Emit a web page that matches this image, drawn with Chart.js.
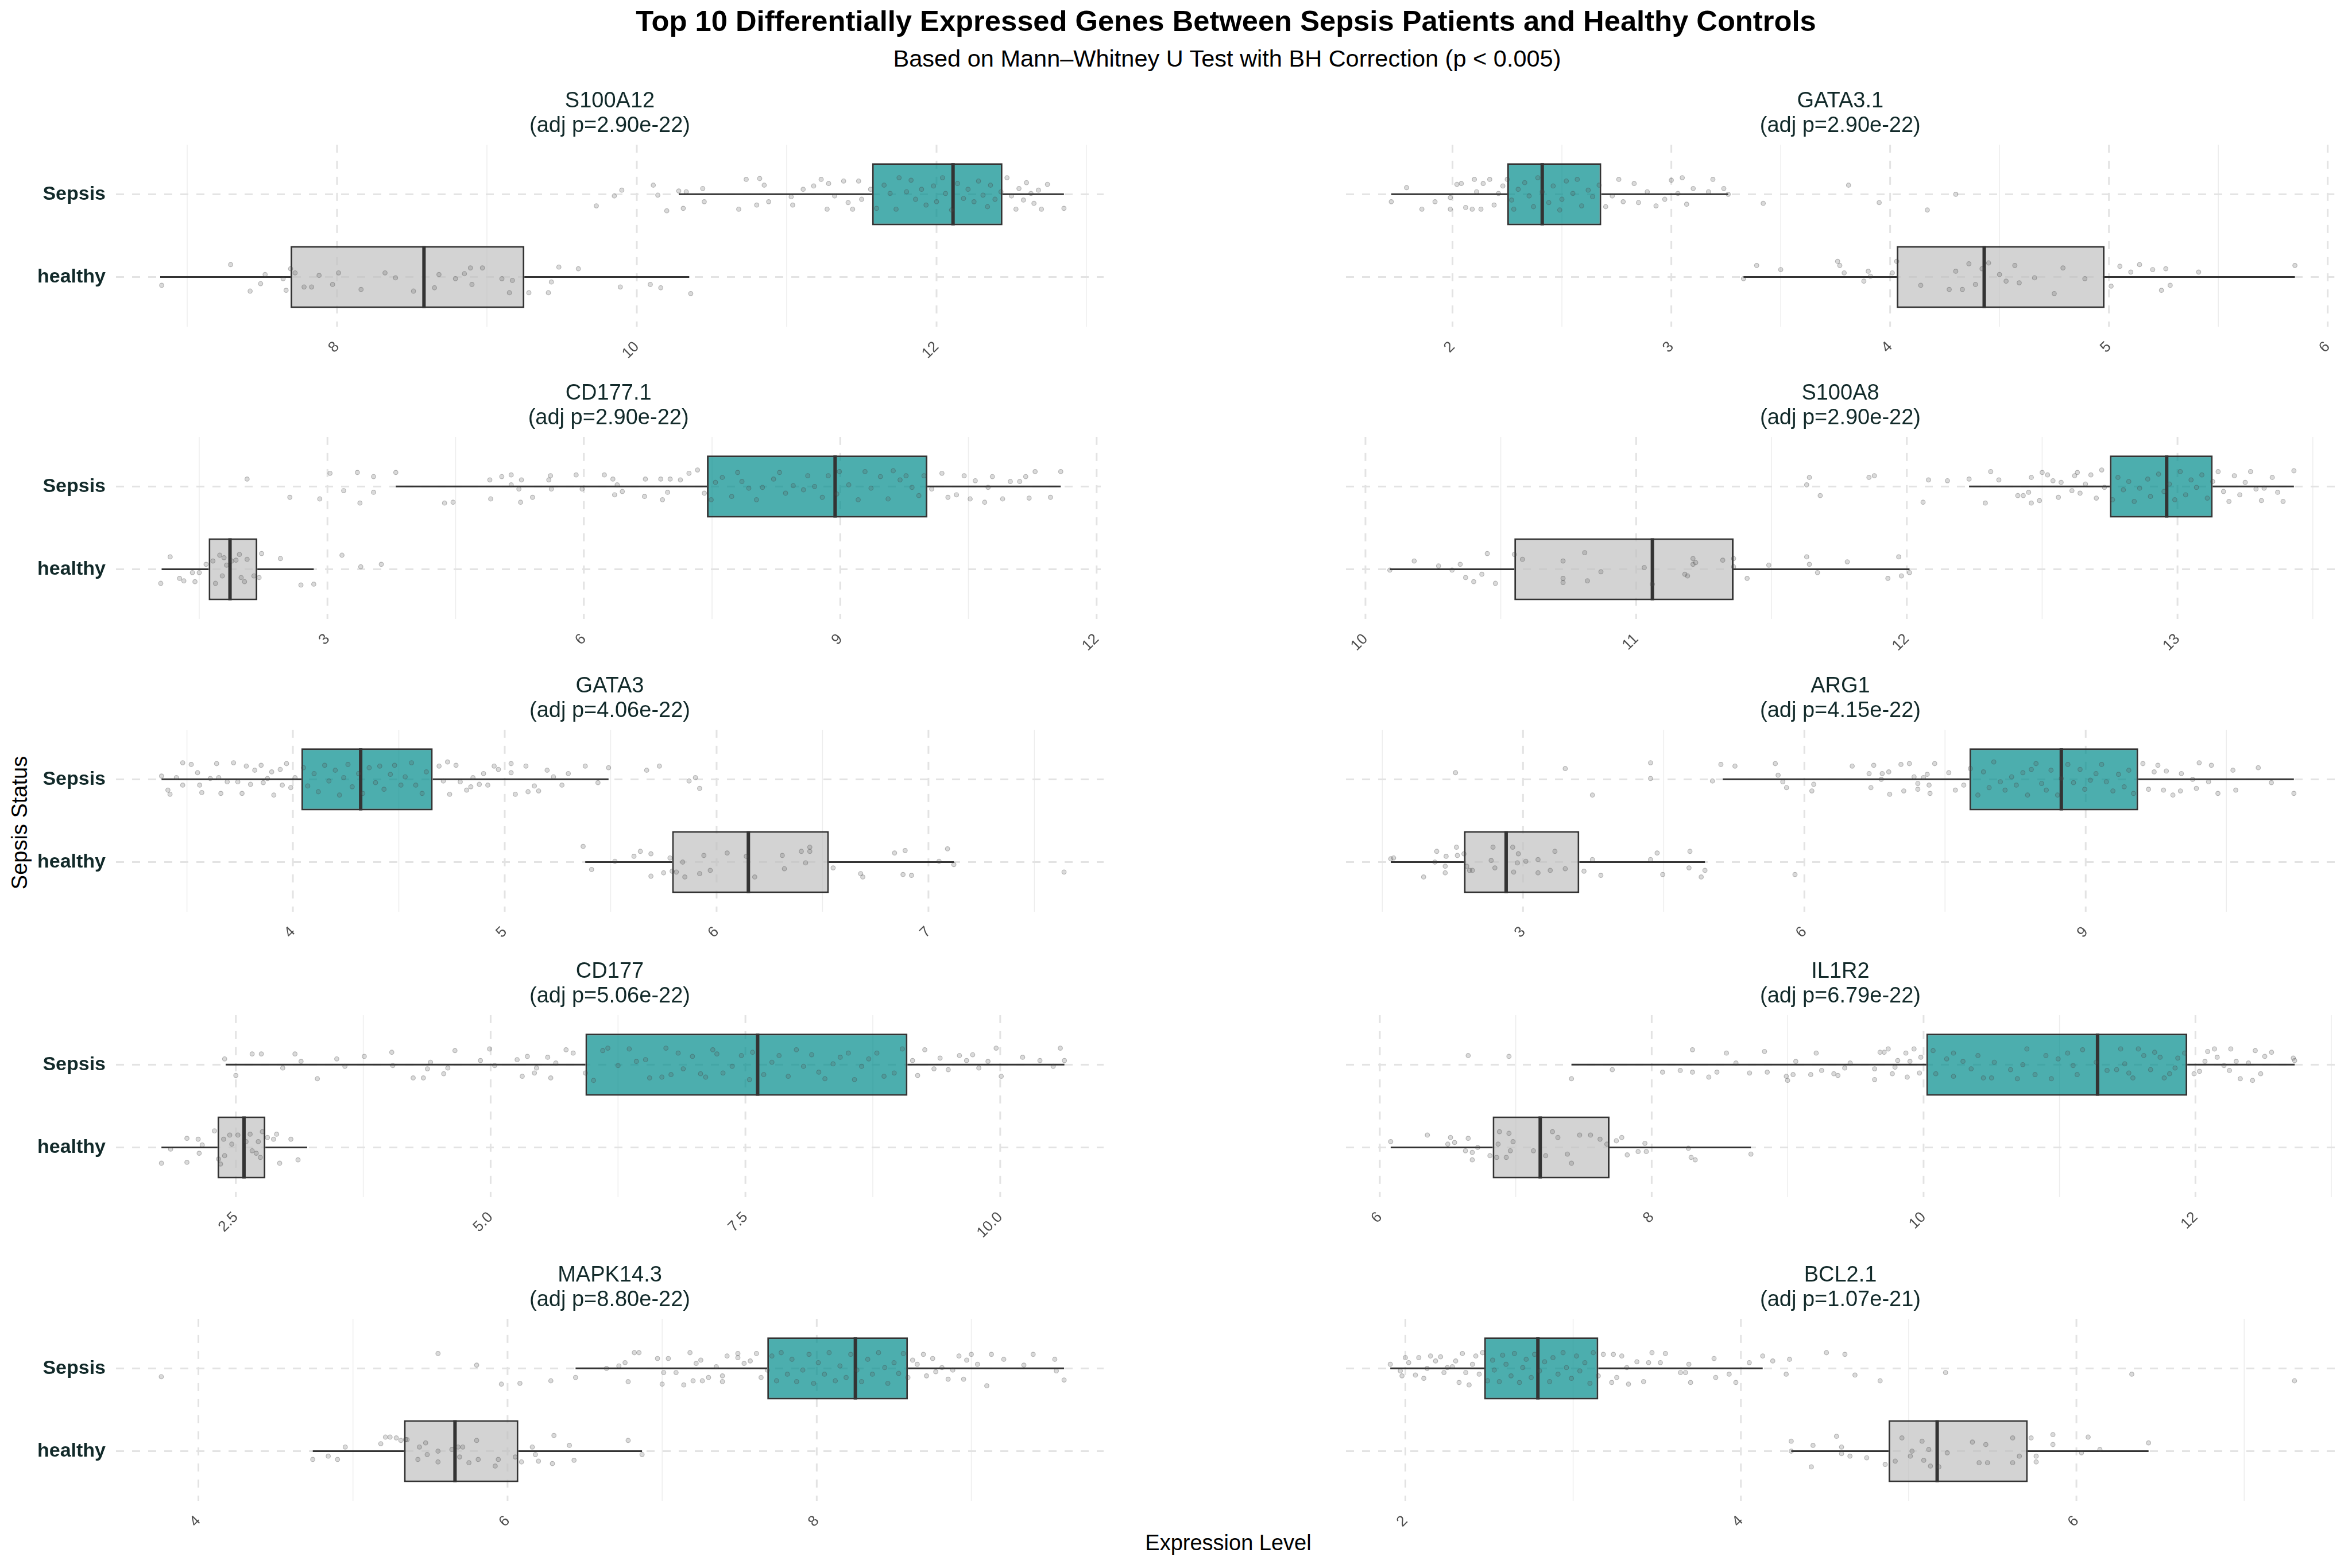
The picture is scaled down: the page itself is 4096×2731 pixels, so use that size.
<!DOCTYPE html>
<html><head><meta charset="utf-8">
<script src="https://cdn.jsdelivr.net/npm/chart.js@4.4.1/dist/chart.umd.min.js"></script>
<style>
html,body{margin:0;padding:0;background:#fff;}
#wrap{position:relative;width:4096px;height:2731px;overflow:hidden;background:#fff;font-family:'Liberation Sans',Arial,Helvetica,sans-serif;}
#wrap canvas{position:absolute;}
.t{position:absolute;white-space:nowrap;transform:translate(-50%,-50%);line-height:1;color:#000;}
</style></head><body><div id="wrap">
<div class="t" style="left:2135px;top:37px;font-size:50.7px;font-weight:bold;">Top 10 Differentially Expressed Genes Between Sepsis Patients and Healthy Controls</div>
<div class="t" style="left:2137px;top:102px;font-size:41.5px;">Based on Mann–Whitney U Test with BH Correction (p &lt; 0.005)</div>
<div class="t" style="left:34px;top:1433px;font-size:38px;transform:translate(-50%,-50%) rotate(-90deg);">Sepsis Status</div>
<div class="t" style="left:2139px;top:2687px;font-size:38px;">Expression Level</div>
</div>
<script>
// ---------------- data ----------------
const genes = ['S100A12','GATA3.1','CD177.1','S100A8','GATA3','ARG1','CD177','IL1R2','MAPK14.3','BCL2.1'];
const pAdj  = ['2.90e-22','2.90e-22','2.90e-22','2.90e-22','4.06e-22','4.15e-22','5.06e-22','6.79e-22','8.80e-22','1.07e-21'];
const groups = ['Sepsis','healthy'];

const sepsisLow  = [10.28, 1.72, 3.80, 12.23, 3.38, 5.13, 2.40, 7.41, 6.44, 1.91];
const sepsisQ1   = [11.57, 2.25, 7.44, 12.75, 4.04, 7.76, 5.93, 10.02, 7.68, 2.47];
const sepsisMed  = [12.11, 2.41, 8.94, 12.96, 4.32, 8.74, 7.62, 11.28, 8.25, 2.79];
const sepsisQ3   = [12.44, 2.68, 10.02, 13.13, 4.66, 9.56, 9.09, 11.94, 8.59, 3.15];
const sepsisHigh = [12.85, 3.26, 11.58, 13.43, 5.49, 11.22, 10.63, 12.73, 9.60, 4.13];

const healthyLow  = [6.82, 3.33, 1.06, 10.09, 5.38, 1.59, 1.77, 6.08, 4.74, 4.30];
const healthyQ1   = [7.69, 4.03, 1.61, 10.55, 5.79, 2.37, 2.32, 6.83, 5.33, 4.88];
const healthyMed  = [8.58, 4.43, 1.86, 11.06, 6.15, 2.82, 2.58, 7.18, 5.66, 5.17];
const healthyQ3   = [9.25, 4.98, 2.18, 11.36, 6.53, 3.60, 2.79, 7.69, 6.07, 5.71];
const healthyHigh = [10.35, 5.85, 2.84, 12.01, 7.12, 4.94, 3.20, 8.73, 6.87, 6.43];

const xMin = [6.525, 1.513, 0.526, 9.928, 3.165, 1.112, 1.324, 5.751, 3.467, 1.646];
const xMax = [13.115, 6.031, 12.05, 13.581, 7.827, 11.656, 11.015, 13.025, 9.856, 7.540];

const tickValues = [[8,10,12],[2,3,4,5,6],[3,6,9,12],[10,11,12,13],[4,5,6,7],[3,6,9],[2.5,5,7.5,10],[6,8,10,12],[4,6,8],[2,4,6]];
const tickLabels = [['8','10','12'],['2','3','4','5','6'],['3','6','9','12'],['10','11','12','13'],['4','5','6','7'],['3','6','9'],['2.5','5.0','7.5','10.0'],['6','8','10','12'],['4','6','8'],['2','4','6']];

// jittered observations: [expression, vertical jitter]
const S100A12_sepsis = [[9.73,0.14],[9.85,0.02],[9.90,-0.05],[10.11,-0.11],[10.14,0.01],[10.20,0.20],[10.28,-0.04],[10.31,0.17],[10.33,-0.03],[10.44,-0.07],[10.45,0.09],[10.68,0.18],[10.73,-0.18],[10.80,0.13],[10.82,-0.19],[10.85,-0.11],[10.88,0.09],[11.03,0.03],[11.04,0.13],[11.11,-0.06],[11.18,-0.10],[11.23,-0.18],[11.27,0.18],[11.28,-0.13],[11.32,0.02],[11.38,-0.16],[11.41,0.10],[11.44,0.18],[11.48,-0.16],[11.50,0.06],[11.56,-0.06],[11.60,0.17],[11.65,-0.11],[11.69,-0.01],[11.73,0.18],[11.75,-0.20],[11.80,-0.03],[11.83,-0.17],[11.86,0.06],[11.90,-0.06],[11.93,0.13],[11.98,-0.10],[12.00,0.09],[12.04,-0.20],[12.06,-0.01],[12.10,0.19],[12.14,-0.13],[12.18,0.05],[12.21,-0.06],[12.25,0.09],[12.28,-0.16],[12.31,0.01],[12.34,0.15],[12.36,-0.11],[12.39,0.06],[12.43,-0.03],[12.47,-0.20],[12.50,0.02],[12.53,0.18],[12.55,-0.07],[12.58,0.07],[12.60,-0.14],[12.63,-0.01],[12.65,0.11],[12.68,-0.05],[12.70,0.18],[12.74,-0.12],[12.85,0.17]];
const S100A12_healthy = [[6.83,0.10],[7.29,-0.15],[7.42,0.17],[7.49,0.08],[7.52,-0.03],[7.64,0.02],[7.66,0.16],[7.69,-0.10],[7.72,-0.05],[7.78,0.12],[7.83,0.12],[7.88,-0.02],[7.97,0.09],[8.01,-0.05],[8.16,0.15],[8.32,-0.05],[8.39,0.01],[8.51,0.17],[8.65,0.13],[8.68,-0.03],[8.79,0.02],[8.85,-0.04],[8.89,-0.11],[8.90,0.09],[8.97,-0.11],[9.10,0.02],[9.15,0.19],[9.17,0.04],[9.28,0.19],[9.41,0.19],[9.43,0.06],[9.48,-0.12],[9.61,-0.10],[9.89,0.12],[10.09,0.09],[10.16,0.13],[10.36,0.20]];

const GATA3_1_sepsis = [[1.72,0.09],[1.79,-0.08],[1.86,0.18],[1.92,0.09],[1.99,0.04],[1.99,0.18],[2.02,-0.12],[2.04,-0.13],[2.06,0.16],[2.09,0.18],[2.10,-0.18],[2.11,-0.03],[2.13,0.18],[2.14,-0.13],[2.17,-0.18],[2.19,0.13],[2.21,-0.01],[2.23,-0.10],[2.25,-0.18],[2.27,0.07],[2.28,0.18],[2.30,-0.06],[2.33,-0.14],[2.35,0.02],[2.37,0.15],[2.39,-0.20],[2.41,-0.03],[2.44,0.10],[2.46,-0.10],[2.49,0.19],[2.50,0.06],[2.52,-0.16],[2.55,-0.01],[2.57,-0.18],[2.59,0.14],[2.62,-0.05],[2.64,0.03],[2.67,-0.11],[2.70,0.15],[2.73,0.02],[2.76,-0.18],[2.78,0.09],[2.83,-0.13],[2.85,0.10],[2.89,-0.03],[2.93,0.14],[2.97,0.06],[3.00,-0.17],[3.03,-0.01],[3.05,-0.20],[3.07,0.12],[3.10,-0.07],[3.17,-0.03],[3.19,-0.18],[3.24,-0.07],[3.26,0.00],[3.42,0.11],[3.81,-0.11],[3.95,0.10],[4.17,0.19],[4.30,0.00]];
const GATA3_1_healthy = [[3.33,0.02],[3.39,-0.14],[3.50,-0.09],[3.76,-0.19],[3.77,-0.14],[3.79,-0.05],[3.88,0.05],[3.90,-0.07],[3.91,-0.01],[4.01,-0.05],[4.03,-0.19],[4.14,0.10],[4.27,0.15],[4.30,-0.07],[4.33,0.15],[4.36,-0.16],[4.39,0.09],[4.42,-0.10],[4.45,-0.17],[4.50,-0.03],[4.53,0.05],[4.57,-0.14],[4.59,0.07],[4.66,0.01],[4.75,0.20],[4.79,-0.11],[4.89,0.02],[5.01,0.11],[5.05,-0.13],[5.10,-0.06],[5.14,-0.15],[5.20,-0.09],[5.24,0.16],[5.26,-0.10],[5.28,0.10],[5.41,-0.06],[5.85,-0.14]];

const CD177_1_sepsis = [[2.06,-0.09],[2.56,0.13],[2.91,0.15],[3.03,-0.16],[3.19,0.05],[3.35,-0.17],[3.38,0.20],[3.54,-0.12],[3.54,0.07],[3.80,-0.17],[4.37,0.20],[4.47,0.19],[4.90,-0.08],[4.91,0.15],[5.04,-0.12],[5.15,-0.14],[5.15,-0.02],[5.24,0.03],[5.26,0.19],[5.27,-0.08],[5.40,0.13],[5.59,-0.08],[5.61,-0.13],[5.62,0.03],[5.91,-0.14],[5.98,0.03],[6.24,-0.14],[6.34,-0.09],[6.36,0.10],[6.39,-0.02],[6.45,0.06],[6.71,0.12],[6.72,-0.09],[6.90,-0.09],[6.92,0.16],[6.98,0.07],[7.01,-0.09],[7.13,-0.08],[7.23,-0.16],[7.33,-0.20],[7.41,0.08],[7.49,0.16],[7.54,-0.05],[7.62,-0.11],[7.73,0.12],[7.80,-0.17],[7.85,-0.06],[7.93,0.02],[8.02,0.16],[8.09,0.01],[8.22,-0.09],[8.29,-0.17],[8.36,0.08],[8.45,-0.01],[8.57,0.04],[8.62,-0.13],[8.70,0.00],[8.79,0.13],[8.86,-0.13],[8.96,0.09],[8.99,-0.18],[9.10,-0.02],[9.21,0.16],[9.29,-0.18],[9.36,0.02],[9.47,-0.12],[9.56,0.15],[9.62,-0.19],[9.70,-0.08],[9.77,-0.13],[9.84,0.01],[9.92,0.11],[9.98,-0.13],[10.07,0.03],[10.19,-0.16],[10.26,0.13],[10.36,0.10],[10.45,-0.13],[10.52,0.15],[10.58,-0.07],[10.69,0.19],[10.73,0.01],[10.78,-0.12],[10.90,0.15],[10.99,-0.06],[11.10,-0.06],[11.17,-0.12],[11.21,0.14],[11.28,-0.18],[11.46,0.13],[11.58,-0.18]];
const CD177_1_healthy = [[1.05,0.17],[1.16,-0.15],[1.27,0.11],[1.32,0.14],[1.42,0.04],[1.45,0.15],[1.50,0.04],[1.58,-0.06],[1.66,-0.10],[1.69,0.17],[1.74,-0.17],[1.77,0.08],[1.79,-0.14],[1.82,-0.05],[1.88,-0.10],[1.93,-0.11],[1.97,-0.18],[1.99,0.10],[2.03,0.15],[2.06,-0.12],[2.14,0.08],[2.20,0.10],[2.23,-0.19],[2.45,-0.13],[2.69,0.19],[2.84,0.18],[3.17,-0.17],[3.39,-0.03],[3.63,-0.06]];

const S100A8_sepsis = [[11.63,-0.02],[11.64,-0.11],[11.68,0.11],[11.86,-0.11],[11.88,-0.13],[12.06,0.19],[12.08,-0.08],[12.15,-0.07],[12.23,-0.09],[12.29,0.20],[12.31,-0.18],[12.34,-0.08],[12.41,0.11],[12.43,0.11],[12.45,0.07],[12.46,-0.11],[12.46,0.20],[12.49,0.17],[12.50,-0.17],[12.52,-0.14],[12.54,-0.07],[12.56,0.13],[12.57,-0.05],[12.61,0.05],[12.62,-0.13],[12.63,-0.17],[12.64,0.08],[12.66,-0.03],[12.68,-0.14],[12.70,0.14],[12.72,-0.20],[12.73,0.01],[12.76,0.16],[12.78,-0.11],[12.80,0.04],[12.82,-0.06],[12.84,0.18],[12.86,0.02],[12.89,-0.09],[12.90,0.12],[12.93,-0.15],[12.95,0.06],[12.97,-0.03],[12.99,0.16],[13.01,-0.18],[13.03,0.10],[13.05,-0.08],[13.07,0.01],[13.09,-0.14],[13.11,0.14],[13.13,-0.06],[13.15,-0.18],[13.17,0.06],[13.19,0.18],[13.21,-0.13],[13.23,0.10],[13.25,-0.05],[13.27,-0.18],[13.29,0.03],[13.31,0.17],[13.32,0.02],[13.35,-0.11],[13.37,0.07],[13.39,0.18],[13.43,-0.19]];
const S100A8_healthy = [[10.09,0.01],[10.18,-0.10],[10.27,-0.04],[10.32,0.01],[10.35,-0.06],[10.37,0.10],[10.40,0.15],[10.43,0.06],[10.45,-0.19],[10.48,0.17],[10.55,-0.18],[10.58,-0.12],[10.73,-0.10],[10.73,0.11],[10.73,0.16],[10.81,-0.20],[10.82,0.14],[10.87,0.03],[11.03,-0.02],[11.06,0.18],[11.18,0.06],[11.19,0.08],[11.21,-0.06],[11.21,-0.13],[11.22,-0.08],[11.32,-0.11],[11.36,-0.13],[11.36,-0.03],[11.41,0.11],[11.49,-0.05],[11.63,-0.15],[11.64,-0.06],[11.67,0.04],[11.78,-0.09],[11.93,0.11],[11.97,-0.15],[11.98,0.08],[12.01,0.04]];

const GATA3_sepsis = [[3.38,-0.04],[3.41,0.13],[3.42,0.18],[3.45,-0.02],[3.48,-0.20],[3.48,0.07],[3.52,-0.18],[3.55,-0.08],[3.56,0.07],[3.57,0.16],[3.61,-0.01],[3.64,-0.19],[3.65,-0.02],[3.66,0.17],[3.69,0.03],[3.72,-0.20],[3.74,0.03],[3.76,0.17],[3.78,-0.16],[3.80,0.06],[3.82,-0.11],[3.85,-0.17],[3.86,0.04],[3.88,-0.01],[3.90,-0.09],[3.91,0.19],[3.94,-0.12],[3.95,0.07],[3.97,-0.19],[3.99,0.10],[4.01,-0.02],[4.05,-0.14],[4.07,0.08],[4.10,-0.07],[4.12,0.15],[4.15,-0.17],[4.17,0.02],[4.20,-0.11],[4.22,0.19],[4.24,-0.02],[4.26,-0.18],[4.28,0.09],[4.31,-0.07],[4.33,0.17],[4.36,-0.14],[4.39,0.04],[4.41,-0.16],[4.43,0.12],[4.46,-0.06],[4.48,-0.17],[4.51,0.07],[4.53,-0.03],[4.56,-0.20],[4.58,0.07],[4.61,0.17],[4.63,-0.09],[4.69,-0.16],[4.71,0.02],[4.73,-0.21],[4.74,0.18],[4.77,-0.17],[4.79,0.03],[4.82,0.13],[4.84,0.09],[4.85,-0.02],[4.88,0.06],[4.90,-0.07],[4.92,0.07],[4.95,-0.16],[4.97,-0.12],[5.03,-0.19],[5.03,-0.08],[5.05,0.18],[5.10,-0.16],[5.11,0.15],[5.14,0.08],[5.16,0.14],[5.20,-0.11],[5.23,-0.03],[5.27,0.07],[5.30,-0.07],[5.38,-0.16],[5.44,0.04],[5.49,-0.14],[5.67,-0.11],[5.73,-0.16],[5.87,0.02],[5.90,-0.02],[5.92,0.11]];
const GATA3_healthy = [[5.37,-0.19],[5.41,0.09],[5.52,-0.01],[5.61,-0.07],[5.64,-0.13],[5.69,0.17],[5.69,-0.10],[5.75,0.13],[5.78,-0.05],[5.79,0.11],[5.81,0.12],[5.84,0.00],[5.85,0.18],[5.92,0.14],[5.94,-0.08],[5.97,0.10],[6.05,-0.11],[6.14,-0.07],[6.18,0.18],[6.31,-0.08],[6.32,0.08],[6.40,-0.13],[6.42,0.01],[6.44,-0.18],[6.44,-0.13],[6.55,0.07],[6.68,0.14],[6.69,0.18],[6.84,-0.11],[6.88,0.15],[6.89,-0.14],[6.92,0.16],[7.05,-0.01],[7.09,-0.16],[7.12,0.03],[7.64,0.12]];

const ARG1_sepsis = [[2.28,-0.08],[3.45,-0.13],[3.74,0.19],[4.36,-0.20],[4.36,-0.01],[5.02,0.02],[5.11,-0.18],[5.26,-0.16],[5.69,-0.19],[5.72,-0.05],[5.77,0.03],[5.81,0.10],[6.08,0.14],[6.10,0.06],[6.51,-0.16],[6.69,-0.07],[6.71,0.10],[6.74,-0.17],[6.82,0.00],[6.83,-0.07],[6.90,-0.09],[6.91,0.18],[7.03,-0.18],[7.06,0.14],[7.12,-0.19],[7.17,-0.03],[7.21,0.05],[7.21,0.12],[7.27,-0.02],[7.31,-0.06],[7.33,0.07],[7.34,0.17],[7.39,-0.19],[7.54,-0.08],[7.61,0.13],[7.70,0.07],[7.77,-0.13],[7.85,0.19],[7.91,-0.09],[7.97,0.10],[8.02,-0.21],[8.09,0.03],[8.14,0.13],[8.21,-0.03],[8.26,0.07],[8.33,-0.08],[8.38,0.19],[8.42,-0.12],[8.47,-0.19],[8.53,0.05],[8.58,0.13],[8.63,-0.11],[8.70,0.19],[8.74,-0.01],[8.81,-0.18],[8.87,0.04],[8.94,-0.12],[8.99,0.12],[9.05,0.01],[9.11,-0.07],[9.17,-0.18],[9.22,0.03],[9.29,0.14],[9.35,-0.06],[9.41,0.09],[9.46,-0.11],[9.51,0.17],[9.61,-0.19],[9.67,0.12],[9.73,-0.09],[9.77,-0.17],[9.83,0.13],[9.86,-0.10],[9.93,0.19],[10.01,0.14],[10.02,-0.07],[10.14,0.00],[10.18,0.11],[10.21,-0.20],[10.31,0.03],[10.34,-0.17],[10.41,0.17],[10.57,-0.11],[10.60,0.13],[10.84,-0.14],[10.98,0.04],[11.22,0.17]];
const ARG1_healthy = [[1.59,-0.04],[1.62,-0.05],[1.94,0.18],[2.06,0.00],[2.08,-0.13],[2.17,0.05],[2.17,0.13],[2.18,-0.07],[2.29,-0.18],[2.30,-0.08],[2.37,-0.10],[2.40,0.05],[2.43,0.10],[2.46,0.10],[2.66,-0.02],[2.68,-0.18],[2.70,0.07],[2.89,-0.18],[2.90,0.12],[2.94,0.01],[2.95,-0.10],[3.03,-0.01],[3.16,0.13],[3.16,-0.03],[3.29,0.10],[3.34,-0.13],[3.45,0.08],[3.65,0.11],[3.74,-0.03],[3.83,0.16],[4.36,-0.03],[4.43,-0.11],[4.49,0.15],[4.77,0.07],[4.78,-0.13],[4.90,0.18],[4.94,0.10],[5.90,0.15]];

const CD177_sepsis = [[2.39,-0.07],[2.50,0.13],[2.66,-0.13],[2.75,-0.13],[2.96,0.04],[3.08,-0.13],[3.14,-0.04],[3.30,0.17],[3.49,-0.07],[3.57,0.02],[3.76,-0.10],[4.03,-0.15],[4.04,0.01],[4.24,0.16],[4.34,0.16],[4.38,0.05],[4.41,-0.03],[4.54,0.11],[4.58,0.04],[4.65,-0.17],[4.90,-0.05],[4.99,-0.19],[5.04,0.01],[5.26,-0.06],[5.31,0.14],[5.36,-0.10],[5.43,0.10],[5.45,0.04],[5.56,-0.09],[5.59,0.16],[5.64,-0.02],[5.74,-0.18],[5.81,-0.14],[5.93,0.10],[6.01,0.19],[6.10,-0.17],[6.15,-0.20],[6.25,0.01],[6.36,-0.19],[6.43,-0.04],[6.52,-0.06],[6.56,0.16],[6.68,0.15],[6.72,-0.20],[6.77,0.12],[6.84,-0.14],[6.89,0.05],[6.98,-0.10],[7.06,0.11],[7.11,0.15],[7.18,-0.18],[7.22,-0.13],[7.28,0.10],[7.37,0.02],[7.46,-0.11],[7.54,0.18],[7.57,-0.15],[7.68,0.12],[7.76,-0.03],[7.83,-0.11],[7.92,0.14],[8.00,-0.18],[8.07,0.02],[8.15,-0.12],[8.22,0.09],[8.28,0.17],[8.36,-0.01],[8.43,-0.09],[8.51,-0.14],[8.57,0.18],[8.64,0.02],[8.71,-0.07],[8.79,-0.14],[8.86,0.14],[8.96,0.10],[9.04,-0.19],[9.14,-0.05],[9.19,0.13],[9.26,-0.18],[9.35,0.05],[9.41,-0.08],[9.49,0.06],[9.60,-0.11],[9.67,-0.05],[9.73,-0.12],[9.79,0.04],[9.88,-0.04],[9.96,-0.20],[10.01,0.14],[10.22,-0.09],[10.39,-0.05],[10.52,0.02],[10.59,-0.20],[10.63,-0.05]];
const CD177_healthy = [[1.77,0.19],[1.86,0.02],[2.02,-0.11],[2.02,0.18],[2.13,-0.10],[2.14,0.07],[2.17,-0.03],[2.29,-0.20],[2.33,0.14],[2.35,0.20],[2.38,-0.10],[2.39,0.10],[2.44,-0.15],[2.46,-0.04],[2.52,-0.15],[2.60,-0.07],[2.64,-0.16],[2.66,0.04],[2.70,0.07],[2.72,-0.07],[2.74,0.12],[2.76,-0.19],[2.81,-0.12],[2.87,-0.10],[2.90,-0.16],[2.93,0.19],[3.04,-0.10],[3.11,0.15]];

const IL1R2_sepsis = [[6.65,-0.11],[6.95,-0.10],[7.41,0.17],[7.71,0.06],[8.08,0.09],[8.21,0.07],[8.30,-0.18],[8.30,0.09],[8.42,0.15],[8.48,0.09],[8.55,-0.14],[8.62,-0.02],[8.72,0.10],[8.83,-0.16],[8.85,0.09],[8.99,0.14],[9.00,0.19],[9.04,0.12],[9.06,-0.04],[9.17,0.12],[9.21,-0.14],[9.25,0.07],[9.34,0.11],[9.37,0.13],[9.42,0.04],[9.46,-0.02],[9.64,0.18],[9.64,0.05],[9.68,-0.15],[9.71,-0.15],[9.74,-0.19],[9.77,0.11],[9.79,0.03],[9.81,-0.05],[9.87,-0.14],[9.88,0.15],[9.90,-0.04],[9.93,-0.19],[9.97,0.10],[9.98,-0.09],[10.07,-0.17],[10.09,0.11],[10.17,-0.07],[10.22,-0.14],[10.22,0.14],[10.29,-0.04],[10.35,0.05],[10.40,-0.11],[10.44,0.16],[10.50,0.16],[10.52,-0.03],[10.64,0.06],[10.69,0.17],[10.73,0.00],[10.76,-0.19],[10.82,0.12],[10.90,-0.11],[10.94,0.17],[10.99,-0.07],[11.06,-0.14],[11.10,0.01],[11.13,0.12],[11.17,-0.18],[11.27,-0.03],[11.35,0.07],[11.42,0.06],[11.45,-0.19],[11.48,-0.01],[11.51,0.10],[11.54,0.16],[11.58,-0.19],[11.62,-0.11],[11.67,0.06],[11.70,-0.15],[11.74,-0.09],[11.77,0.16],[11.81,0.11],[11.85,0.04],[11.87,-0.08],[11.92,-0.14],[11.99,0.11],[12.03,0.08],[12.07,-0.04],[12.09,-0.16],[12.14,-0.19],[12.16,-0.09],[12.21,0.01],[12.25,0.07],[12.26,-0.19],[12.30,-0.04],[12.33,0.17],[12.39,-0.02],[12.42,0.19],[12.44,-0.17],[12.48,0.11],[12.51,-0.10],[12.56,-0.15],[12.72,-0.08],[12.73,-0.05]];
const IL1R2_healthy = [[6.08,-0.07],[6.35,-0.15],[6.50,-0.04],[6.52,-0.12],[6.55,-0.06],[6.63,0.04],[6.65,-0.11],[6.68,0.06],[6.68,0.15],[6.72,0.00],[6.81,0.10],[6.86,0.12],[6.87,-0.04],[6.88,-0.19],[6.93,0.12],[6.95,-0.17],[6.96,0.04],[6.98,-0.07],[7.13,0.04],[7.22,0.10],[7.27,-0.19],[7.31,-0.12],[7.38,0.08],[7.41,0.19],[7.47,-0.15],[7.55,-0.15],[7.62,-0.10],[7.67,-0.04],[7.74,-0.08],[7.78,-0.12],[7.82,0.09],[7.90,0.05],[7.95,-0.05],[7.96,0.05],[8.27,0.01],[8.29,0.12],[8.32,0.15],[8.73,0.08]];

const MAPK14_3_sepsis = [[3.76,0.10],[5.55,-0.18],[5.80,-0.04],[5.96,0.19],[6.08,0.18],[6.28,0.15],[6.44,0.11],[6.64,0.00],[6.72,-0.03],[6.76,-0.07],[6.78,0.16],[6.82,-0.19],[6.85,-0.19],[6.97,-0.12],[7.00,0.19],[7.01,0.05],[7.04,-0.12],[7.09,0.05],[7.14,0.20],[7.18,-0.19],[7.20,0.15],[7.22,-0.06],[7.25,-0.10],[7.26,0.15],[7.30,0.11],[7.35,-0.02],[7.39,0.09],[7.39,0.16],[7.42,-0.15],[7.49,-0.18],[7.49,-0.13],[7.53,-0.06],[7.57,-0.09],[7.61,-0.18],[7.64,0.11],[7.68,0.02],[7.71,-0.15],[7.74,0.15],[7.77,-0.19],[7.81,0.07],[7.84,-0.11],[7.87,0.16],[7.91,0.02],[7.95,-0.17],[7.98,0.18],[8.01,-0.07],[8.05,0.07],[8.08,-0.19],[8.12,0.15],[8.15,-0.03],[8.19,0.11],[8.22,-0.17],[8.26,0.02],[8.29,0.16],[8.33,-0.11],[8.36,0.07],[8.40,-0.19],[8.44,-0.01],[8.46,0.18],[8.50,-0.07],[8.53,0.06],[8.56,-0.18],[8.59,0.11],[8.62,-0.10],[8.65,-0.05],[8.69,-0.17],[8.71,0.09],[8.75,-0.12],[8.77,0.04],[8.81,-0.01],[8.85,0.13],[8.88,0.02],[8.92,-0.15],[8.95,0.13],[8.97,-0.10],[9.00,-0.17],[9.04,-0.05],[9.10,0.21],[9.13,-0.17],[9.21,-0.11],[9.34,-0.04],[9.40,-0.17],[9.54,-0.11],[9.55,0.03],[9.60,0.14]];
const MAPK14_3_healthy = [[4.74,0.10],[4.84,0.06],[4.90,0.10],[4.95,-0.05],[5.18,-0.09],[5.21,-0.17],[5.24,-0.17],[5.28,-0.16],[5.31,-0.13],[5.34,-0.14],[5.35,-0.14],[5.42,0.10],[5.43,-0.05],[5.47,-0.10],[5.48,0.04],[5.55,0.00],[5.55,0.13],[5.64,-0.02],[5.68,-0.05],[5.69,0.07],[5.71,-0.05],[5.75,0.14],[5.80,-0.13],[5.81,0.10],[5.92,0.18],[5.94,0.10],[6.05,0.07],[6.09,0.13],[6.16,-0.05],[6.18,0.04],[6.20,0.12],[6.29,0.15],[6.30,-0.19],[6.40,-0.07],[6.43,0.11],[6.78,-0.13],[6.87,0.04]];

const BCL2_1_sepsis = [[1.91,-0.05],[1.97,0.03],[1.98,0.09],[2.00,-0.13],[2.02,-0.07],[2.06,0.08],[2.08,-0.13],[2.11,0.12],[2.13,0.00],[2.15,-0.15],[2.18,-0.09],[2.21,-0.14],[2.23,0.05],[2.25,-0.01],[2.28,-0.02],[2.30,-0.09],[2.32,0.17],[2.34,-0.18],[2.36,0.05],[2.38,0.20],[2.40,-0.05],[2.42,-0.15],[2.44,0.07],[2.46,-0.19],[2.49,0.15],[2.52,-0.10],[2.53,0.02],[2.56,0.16],[2.58,-0.16],[2.60,-0.05],[2.63,0.09],[2.65,-0.18],[2.68,0.17],[2.70,-0.01],[2.72,-0.11],[2.75,0.11],[2.77,-0.17],[2.80,0.03],[2.83,-0.08],[2.86,0.16],[2.88,-0.13],[2.91,0.07],[2.94,-0.19],[2.96,-0.01],[2.99,0.12],[3.02,-0.15],[3.04,0.03],[3.07,-0.07],[3.10,0.18],[3.12,-0.19],[3.15,0.09],[3.18,-0.17],[3.23,0.17],[3.24,-0.17],[3.26,0.11],[3.29,-0.15],[3.32,-0.01],[3.33,0.19],[3.38,-0.08],[3.42,0.16],[3.45,-0.07],[3.47,-0.19],[3.52,-0.07],[3.55,-0.18],[3.64,0.05],[3.67,0.05],[3.69,-0.05],[3.70,0.17],[3.84,-0.12],[3.85,0.11],[3.93,0.07],[3.97,0.17],[4.05,-0.07],[4.13,-0.15],[4.19,-0.09],[4.27,0.07],[4.29,-0.11],[4.51,-0.19],[4.62,-0.17],[4.68,0.08],[4.83,0.15],[5.22,0.05],[6.33,0.07],[7.30,0.15]];
const BCL2_1_healthy = [[4.30,0.00],[4.30,-0.12],[4.42,0.19],[4.43,-0.07],[4.57,-0.18],[4.60,0.03],[4.60,-0.05],[4.65,0.06],[4.75,0.08],[4.86,0.16],[4.92,0.12],[4.96,-0.16],[5.01,0.06],[5.02,0.00],[5.08,-0.12],[5.09,0.11],[5.12,-0.02],[5.13,0.18],[5.18,0.19],[5.23,0.02],[5.38,-0.11],[5.42,0.14],[5.46,-0.08],[5.47,0.14],[5.62,-0.16],[5.62,0.14],[5.66,0.06],[5.73,-0.16],[5.76,0.06],[5.76,0.13],[5.86,-0.20],[5.86,-0.08],[6.03,0.02],[6.07,-0.17],[6.14,-0.02],[6.43,-0.10]];

const sepsisPoints  = [S100A12_sepsis, GATA3_1_sepsis, CD177_1_sepsis, S100A8_sepsis, GATA3_sepsis, ARG1_sepsis, CD177_sepsis, IL1R2_sepsis, MAPK14_3_sepsis, BCL2_1_sepsis];
const healthyPoints = [S100A12_healthy, GATA3_1_healthy, CD177_1_healthy, S100A8_healthy, GATA3_healthy, ARG1_healthy, CD177_healthy, IL1R2_healthy, MAPK14_3_healthy, BCL2_1_healthy];

// ---------------- layout / style ----------------
const FAMILY = "'Liberation Sans', Arial, Helvetica, sans-serif";
const ROW_TOPS = [252, 761, 1271, 1768, 2297];
const PLOT_H = 317, TITLE_H = 97, XAXIS_H = 80, RIGHT_PAD = 30;
const COLS = [{left:0, width:1952, yW:202}, {left:2324, width:1772, yW:20}];
const BOX_W = 0.75;
const TEAL = 'rgba(0,139,139,0.7)', GRAY = 'rgba(192,192,192,0.7)';
const LINE = '#333333';
const LABEL_COLOR = '#122a2a';

const gridPlugin = {
  id: 'ggGrid',
  beforeDatasetsDraw(chart, args, opts) {
    const {ctx, chartArea: a, scales: {x, y}} = chart;
    const majors = opts.major || [];
    const step = majors.length > 1 ? majors[1] - majors[0] : 1;
    const minors = [];
    for (let v = majors[0] - step / 2; v <= x.max + 1e-9; v += step) if (v >= x.min) minors.push(v);
    ctx.save();
    ctx.beginPath(); ctx.rect(a.left, a.top, a.right - a.left, a.bottom - a.top); ctx.clip();
    ctx.lineCap = 'butt';
    ctx.strokeStyle = '#EDEDED'; ctx.lineWidth = 1.5; ctx.setLineDash([]);
    for (const v of minors) {
      const p = x.getPixelForValue(v);
      ctx.beginPath(); ctx.moveTo(p, a.top); ctx.lineTo(p, a.bottom); ctx.stroke();
    }
    ctx.strokeStyle = '#E3E3E3'; ctx.lineWidth = 3; ctx.setLineDash([14, 14]);
    for (const v of majors) {
      const p = x.getPixelForValue(v);
      ctx.beginPath(); ctx.moveTo(p, a.top); ctx.lineTo(p, a.bottom); ctx.stroke();
    }
    for (const v of [1, 2]) {
      const p = y.getPixelForValue(v);
      ctx.beginPath(); ctx.moveTo(a.left, p); ctx.lineTo(a.right, p); ctx.stroke();
    }
    ctx.restore();
  }
};

const wrap = document.getElementById('wrap');

function buildPanel(i) {
  const col = i % 2, row = Math.floor(i / 2);
  const C = COLS[col];
  const cv = document.createElement('canvas');
  const H = TITLE_H + PLOT_H + XAXIS_H;
  cv.width = C.width; cv.height = H;
  cv.style.left = C.left + 'px';
  cv.style.top = (ROW_TOPS[row] - TITLE_H) + 'px';
  cv.style.width = C.width + 'px'; cv.style.height = H + 'px';
  wrap.appendChild(cv);

  const h = BOX_W / 2;
  const boxes = [{x: [sepsisQ1[i], sepsisQ3[i]], y: 1}, {x: [healthyQ1[i], healthyQ3[i]], y: 2}];
  const gap = {x: NaN, y: NaN};
  const whiskers = [
    {x: sepsisLow[i], y: 1}, {x: sepsisQ1[i], y: 1}, gap, {x: sepsisQ3[i], y: 1}, {x: sepsisHigh[i], y: 1}, gap,
    {x: healthyLow[i], y: 2}, {x: healthyQ1[i], y: 2}, gap, {x: healthyQ3[i], y: 2}, {x: healthyHigh[i], y: 2}
  ];
  const medians = [
    {x: sepsisMed[i], y: 1 - h}, {x: sepsisMed[i], y: 1 + h}, gap,
    {x: healthyMed[i], y: 2 - h}, {x: healthyMed[i], y: 2 + h}
  ];
  const pts = sepsisPoints[i].map(([v, j]) => ({x: v, y: 1 + j}))
    .concat(healthyPoints[i].map(([v, j]) => ({x: v, y: 2 + j})));

  const ticks = tickValues[i], labs = tickLabels[i];

  new Chart(cv, {
    type: 'scatter',
    data: {
      datasets: [
        {type: 'scatter', data: pts, order: 0, pointRadius: 3.8, pointHoverRadius: 3.8,
         backgroundColor: 'rgba(85,85,85,0.22)', borderColor: 'rgba(60,60,60,0.32)', borderWidth: 1.2},
        {type: 'line', data: medians, order: 1, borderColor: LINE, borderWidth: 6, pointRadius: 0, fill: false, tension: 0, borderCapStyle: 'butt'},
        {type: 'line', data: whiskers, order: 2, borderColor: LINE, borderWidth: 3, pointRadius: 0, fill: false, tension: 0, borderCapStyle: 'butt'},
        {type: 'bar', indexAxis: 'y', data: boxes, order: 3, backgroundColor: [TEAL, GRAY],
         borderColor: LINE, borderWidth: 3, borderSkipped: false, barPercentage: BOX_W, categoryPercentage: 1}
      ]
    },
    options: {
      responsive: false, animation: false, devicePixelRatio: 1, events: [],
      layout: {padding: {left: 0, right: RIGHT_PAD, top: 0, bottom: 0}},
      plugins: {
        legend: {display: false}, tooltip: {enabled: false},
        title: {display: true, fullSize: false, text: [genes[i], '(adj p=' + pAdj[i] + ')'],
                color: LABEL_COLOR, font: {family: FAMILY, size: 38, weight: 'normal', lineHeight: 1.13},
                padding: {top: 0, bottom: 11}},
        ggGrid: {major: ticks}
      },
      scales: {
        x: {type: 'linear', position: 'bottom', min: xMin[i], max: xMax[i], bounds: 'data', offset: false,
            grid: {display: false, drawTicks: false, offset: false}, border: {display: false},
            afterBuildTicks: s => { s.ticks = ticks.map(v => ({value: v})); },
            afterFit: s => { s.height = XAXIS_H; },
            ticks: {autoSkip: false, minRotation: 45, maxRotation: 45, padding: 20, color: '#4D4D4D',
                    font: {family: FAMILY, size: 26}, callback: (v, k) => labs[k]}},
        y: {type: 'linear', position: 'left', min: 0.4, max: 2.6, reverse: true, bounds: 'data', offset: false,
            grid: {display: false, drawTicks: false, offset: false}, border: {display: false},
            afterBuildTicks: s => { s.ticks = [{value: 1}, {value: 2}]; },
            afterFit: s => { s.width = C.yW; },
            ticks: {display: col === 0, padding: 18, color: LABEL_COLOR,
                    font: {family: FAMILY, size: 34, weight: 'bold'}, callback: (v, k) => groups[k]}}
      }
    },
    plugins: [gridPlugin]
  });
}

for (let i = 0; i < genes.length; i++) buildPanel(i);
</script>
</body></html>
